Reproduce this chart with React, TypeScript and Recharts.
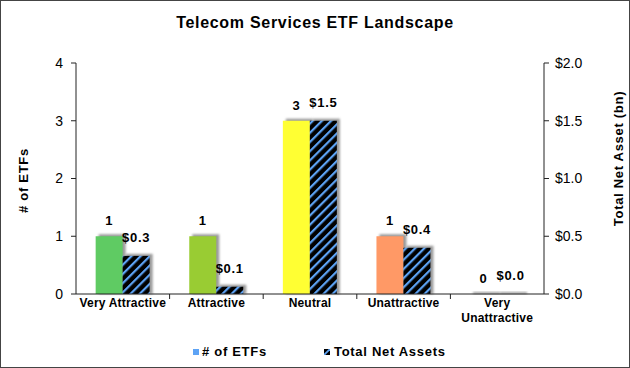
import React from 'react';
import { BarChart, Bar, XAxis, YAxis, Cell, LabelList } from 'recharts';

const categories = ['Very Attractive', 'Attractive', 'Neutral', 'Unattractive', 'Very Unattractive'];
const etfCounts = [1, 1, 3, 1, 0];
const netAssets = [0.33, 0.063, 1.5, 0.4, 0.0];
const netAssetLabels = ['$0.3', '$0.1', '$1.5', '$0.4', '$0.0'];
const barColors = ['#5FCB63', '#99CC33', '#FFFF33', '#FF9966', '#A6A6A6'];
const leftTicks = [0, 1, 2, 3, 4];
const rightTicks = [0, 0.5, 1, 1.5, 2];

const data = categories.map((c, i) => ({
  name: c,
  etfs: etfCounts[i],
  assets: netAssets[i],
  assetLabel: netAssetLabels[i],
}));

const FONT = '"Liberation Sans", Arial, sans-serif';

const ShadowBar = (props: any) => {
  const { x, y, width, height, fill } = props;
  const h = Math.max(height || 0, 0);
  return (
    <g>
      <rect x={x + 3} y={y - 2} width={width} height={h + 2} fill="#9a9a9a" filter="url(#blurShadow)" />
      {h > 0 && <rect x={x} y={y} width={width} height={h} fill={fill} />}
    </g>
  );
};

const XTick = (props: any) => {
  const { x, y, payload, index } = props;
  const bw = 93.6;
  const axisY = y - 7;
  const words: string[] = payload.value === 'Very Unattractive' ? ['Very', 'Unattractive'] : [payload.value];
  return (
    <g>
      {index > 0 && <line x1={x - bw / 2} x2={x - bw / 2} y1={axisY} y2={axisY + 5} stroke="#222" />}
      <text x={x} y={y + 6} textAnchor="middle" fontFamily={FONT} fontWeight="bold" fontSize={12} letterSpacing={0.2} fill="#000">
        {words.map((w, i) => (
          <tspan key={i} x={x} dy={i === 0 ? 0 : 15}>{w}</tspan>
        ))}
      </text>
    </g>
  );
};

const LeftLabel = (props: any) => {
  const { viewBox } = props;
  const cy = viewBox.y + viewBox.height / 2 + 2;
  return (
    <text x={23} y={cy} transform={`rotate(-90, 23, ${cy})`} textAnchor="middle" dominantBaseline="central" fontFamily={FONT} fontWeight="bold" fontSize={13} letterSpacing={0.7} fill="#000">
      # of ETFs
    </text>
  );
};

const RightLabel = (props: any) => {
  const { viewBox } = props;
  const cy = viewBox.y + viewBox.height / 2 - 20;
  return (
    <text x={618} y={cy} transform={`rotate(-90, 618, ${cy})`} textAnchor="middle" dominantBaseline="central" fontFamily={FONT} fontWeight="bold" fontSize={13} letterSpacing={0.7} fill="#000">
      Total Net Asset (bn)
    </text>
  );
};

const labelStyle = { fontWeight: 'bold', fontSize: 13, fill: '#000', fontFamily: FONT, letterSpacing: 0.7 };

export default function App() {
  return (
    <div style={{ position: 'absolute', left: 0, top: 0, width: 630, height: 368, background: '#fff', fontFamily: FONT }}>
      <div style={{ position: 'absolute', left: 0, top: 0, width: 628, height: 366, border: '1px solid #444', boxSizing: 'content-box' }} />
      <div style={{ position: 'absolute', left: 0, top: 14, width: 630, textAlign: 'center', fontWeight: 'bold', fontSize: 16, letterSpacing: 0.7, color: '#000' }}>
        Telecom Services ETF Landscape
      </div>
      <BarChart
        width={630}
        height={368}
        data={data}
        margin={{ top: 63, right: 0, left: 0, bottom: 0 }}
        barCategoryGap="21%"
        barGap={0}
      >
        <defs>
          <pattern id="hatch" patternUnits="userSpaceOnUse" width="6.5" height="6.5" patternTransform="rotate(45)">
            <rect width="6.5" height="6.5" fill="#000" />
            <rect x="0" y="0" width="2.2" height="6.5" fill="#5DA3F5" />
          </pattern>
          <filter id="blurShadow" x="-50%" y="-50%" width="200%" height="200%">
            <feGaussianBlur stdDeviation="1.2" />
          </filter>
        </defs>
        <XAxis
          dataKey="name"
          height={74}
          axisLine={{ stroke: '#222' }}
          tickLine={false}
          tickSize={5}
          tickMargin={2}
          interval={0}
          tick={<XTick />}
        />
        <YAxis
          yAxisId="left"
          width={76}
          domain={[0, 4]}
          ticks={leftTicks}
          axisLine={{ stroke: '#222' }}
          tickLine={{ stroke: '#222' }}
          tickSize={5}
          tickMargin={8}
          tick={{ fill: '#000', fontSize: 14, fontFamily: FONT }}
          label={<LeftLabel />}
        />
        <YAxis
          yAxisId="right"
          orientation="right"
          width={86}
          domain={[0, 2]}
          ticks={rightTicks}
          tickFormatter={(v: number) => '$' + v.toFixed(1)}
          axisLine={{ stroke: '#222' }}
          tickLine={{ stroke: '#222' }}
          tickSize={5}
          tickMargin={6}
          tick={{ fill: '#000', fontSize: 14, fontFamily: FONT }}
          label={<RightLabel />}
        />
        <Bar yAxisId="left" dataKey="etfs" isAnimationActive={false} shape={<ShadowBar />}>
          {data.map((d, i) => (
            <Cell key={i} fill={barColors[i]} />
          ))}
          <LabelList dataKey="etfs" position="top" offset={11} style={labelStyle} />
        </Bar>
        <Bar yAxisId="right" dataKey="assets" isAnimationActive={false} fill="url(#hatch)" shape={<ShadowBar />}>
          <LabelList dataKey="assetLabel" position="top" offset={14} style={labelStyle} />
        </Bar>
      </BarChart>
      <div style={{ position: 'absolute', left: 193, top: 344, display: 'flex', alignItems: 'center', fontWeight: 'bold', fontSize: 13, letterSpacing: 0.7, color: '#000' }}>
        <span style={{ display: 'inline-block', width: 6, height: 6, background: '#5DA3F5', marginRight: 3 }} />
        <span># of ETFs</span>
      </div>
      <div style={{ position: 'absolute', left: 324, top: 344, display: 'flex', alignItems: 'center', fontWeight: 'bold', fontSize: 13, letterSpacing: 0.7, color: '#000' }}>
        <svg width={6} height={6} style={{ marginRight: 4 }}>
          <rect width={6} height={6} fill="#000" />
          <line x1={0} y1={6} x2={6} y2={0} stroke="#5DA3F5" strokeWidth={1.8} />
        </svg>
        <span>Total Net Assets</span>
      </div>
    </div>
  );
}
